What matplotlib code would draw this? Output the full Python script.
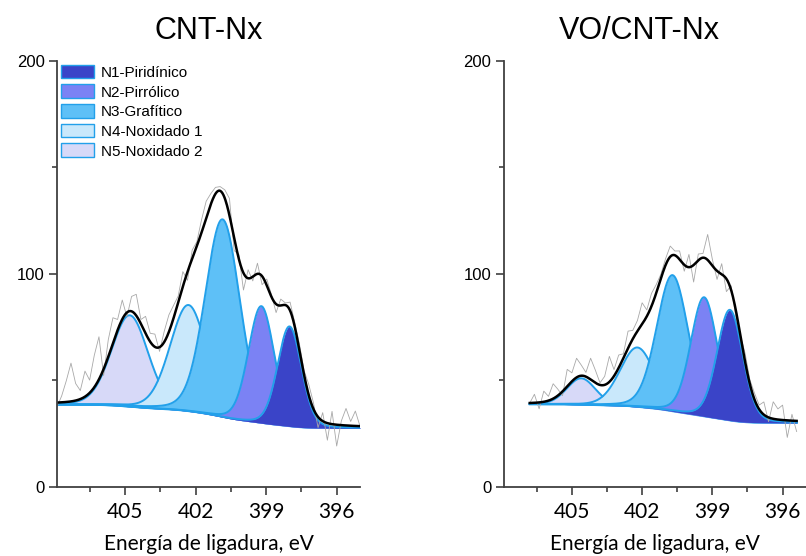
import numpy as np
import matplotlib
matplotlib.use('Agg')
import matplotlib.pyplot as plt
from matplotlib.patches import Patch
from matplotlib.ticker import FixedLocator

# component names and fill colours (N1 ... N5)
peak_names = ['N1-Piridínico', 'N2-Pirrólico', 'N3-Grafítico', 'N4-Noxidado 1', 'N5-Noxidado 2']
peak_colors = ['#3a44c8', '#7b82f4', '#5ec0f7', '#c9e8fb', '#d7d9f8']
edge_color = '#22a0ea'

panel_titles = ['CNT-Nx', 'VO/CNT-Nx']
x_label = 'Energía de ligadura, eV'

# fitted components: centre (eV), height above background, FWHM (eV)
cnt_centers = [398.0, 399.2, 400.85, 402.3, 404.8]
cnt_heights = [47, 55, 93, 50, 43]
cnt_fwhm = [1.2, 1.3, 1.75, 1.85, 1.85]
cnt_background = [38.5, 27.5]      # value at high BE end, low BE end
cnt_range = [407.9, 395.0]
# raw spectrum minus fit envelope, read every ~0.2 eV from high to low BE
cnt_resid = [-2, 3, 10, 18, 8, 4, 12, 6, 15, 20, -3, 8, 12, 5, 9, -2, 7, 10, 2, 8,
             4, 6, -2, 5, 8, 6, 3, 7, -4, 4, 2, 6, 8, 5, 3, 2, 4, 8, -6, 2,
             -8, 4, -2, 5, -4, 3, 1, -4, 3, 1, 4, 2, 3, 2, 5, 3, -5, 4, -8, 6,
             -10, 2, 8, 2, 7, 0]

vo_centers = [398.25, 399.35, 400.7, 402.2, 404.6]
vo_heights = [52, 56, 64, 28, 12.5]
vo_fwhm = [1.3, 1.35, 1.6, 1.75, 1.45]
vo_background = [38.7, 30.0]
vo_range = [406.8, 395.4]
vo_resid = [0, 4, -3, 5, 2, 7, 3, -2, 8, 4, 9, 5, 2, 10, 6, 1, 4, 12, 3, 6,
            2, 8, 4, 5, 10, 3, 6, 4, 2, 3, 5, 2, 4, -3, 6, -8, 3, 2, 12, 3,
            -4, 5, -6, 2, -3, 0, 4, 2, 3, 2, 6, -2, 8, 5, 7, -8, 3, -5]


# mixed gaussian / lorentzian line shape
def pseudo_voigt(x, c, h, w, eta=0.15):
    s = w / 2.3548
    g = np.exp(-(x - c)**2 / (2 * s**2))
    l = 1.0 / (1.0 + ((x - c) / (w / 2))**2)
    return h * ((1 - eta) * g + eta * l)


# shirley type background, x runs from high to low BE
def shirley(total, high, low):
    area = np.cumsum(total[::-1])[::-1]
    return low + (high - low) * area / area[0]


def plot_panel(ax, title_x, title, centers, heights, fwhm, background, e_range, resid):
    x = np.linspace(e_range[0], e_range[1], 600)
    comps = [pseudo_voigt(x, c, h, w) for c, h, w in zip(centers, heights, fwhm)]
    total = np.sum(comps, axis=0)
    bg = shirley(total, background[0], background[1])

    # components, N5 at the back and N1 on top
    for i in reversed(range(len(comps))):
        z = 2 + (len(comps) - i) * 0.1
        ax.fill_between(x, bg, bg + comps[i], color=peak_colors[i], lw=0, zorder=z)
        ax.plot(x, bg + comps[i], color=edge_color, lw=1.4, zorder=z + 0.05)

    # raw data and envelope
    xr = np.linspace(e_range[0], e_range[1], len(resid))
    raw = np.interp(xr[::-1], x[::-1], (bg + total)[::-1])[::-1] + np.array(resid)
    ax.plot(xr, raw, color='#a8a8a8', lw=0.6, zorder=4)
    ax.plot(x, bg + total, color='black', lw=1.8, zorder=5)

    ax.set_xlim(407.9, 395.0)
    ax.set_ylim(0, 200)
    ax.set_xticks([405, 402, 399, 396])
    ax.xaxis.set_minor_locator(FixedLocator([406.5, 403.5, 400.5, 397.5]))
    ax.set_yticks([0, 100, 200])
    ax.yaxis.set_minor_locator(FixedLocator([50, 150]))

    for side in ['top', 'right']:
        ax.spines[side].set_visible(False)
    for side in ['left', 'bottom']:
        ax.spines[side].set_color('#404040')
        ax.spines[side].set_linewidth(1.3)
        ax.spines[side].set_zorder(6)

    ax.tick_params(which='major', direction='out', length=6, width=1.2, color='#404040')
    ax.tick_params(which='minor', direction='out', length=3.5, width=1.2, color='#404040')
    ax.tick_params(axis='x', pad=5)
    ax.tick_params(axis='y', pad=3)
    for lab in ax.get_xticklabels():
        lab.set_fontfamily('Lato')
        lab.set_fontsize(15)
    for lab in ax.get_yticklabels():
        lab.set_fontfamily('Liberation Sans')
        lab.set_fontsize(12)

    ax.set_xlabel(x_label, fontfamily='Lato', fontsize=15, labelpad=9)
    fig.text(title_x, 1 - 31 / 556, title, ha='center', va='center',
             fontfamily='Liberation Sans', fontsize=22)


fig = plt.figure(figsize=(8.06, 5.56), dpi=100)
ax1 = fig.add_axes([57 / 806, 69.3 / 556, 303 / 806, 425.7 / 556])
ax2 = fig.add_axes([504 / 806, 69.3 / 556, 302 / 806, 425.7 / 556])

plot_panel(ax1, 209 / 806, panel_titles[0], cnt_centers, cnt_heights, cnt_fwhm,
           cnt_background, cnt_range, cnt_resid)
plot_panel(ax2, 639 / 806, panel_titles[1], vo_centers, vo_heights, vo_fwhm,
           vo_background, vo_range, vo_resid)

# legend only on the first panel
handles = [Patch(facecolor=peak_colors[i], edgecolor=edge_color, lw=1.0, label=peak_names[i])
           for i in range(len(peak_names))]
ax1.legend(handles=handles, loc='upper left', bbox_to_anchor=(0.0, 1.0), frameon=False,
           prop={'family': 'Liberation Sans', 'size': 11}, handlelength=2.2, handleheight=1.0,
           handletextpad=0.4, labelspacing=0.3, borderaxespad=0.1, borderpad=0.15)

fig.savefig('out.png', dpi=100)
